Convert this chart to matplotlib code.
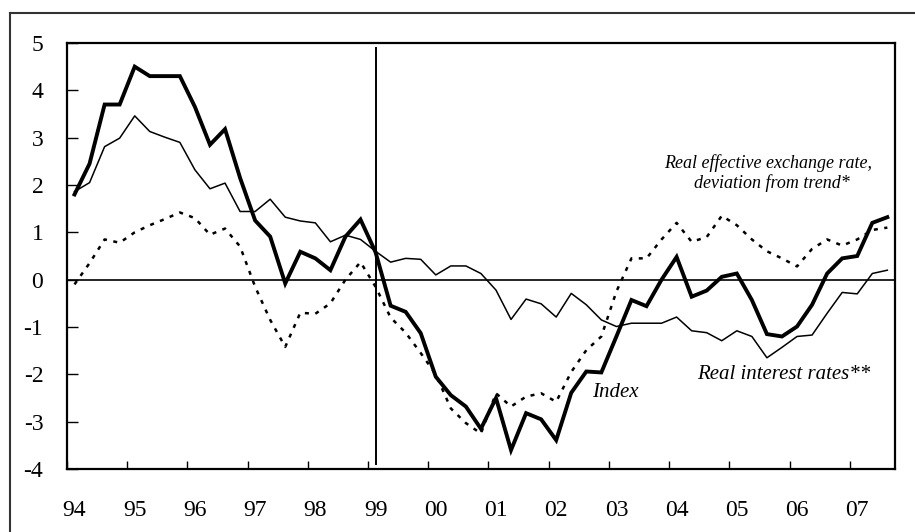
"""Index vs. real interest rates and real effective exchange rate, 1994-2007."""

import matplotlib

matplotlib.use("Agg")
import matplotlib.pyplot as plt
from matplotlib.lines import Line2D

# quarterly observations, 94Q1 .. 07Q3
year_labels = ["94", "95", "96", "97", "98", "99", "00", "01", "02", "03", "04", "05", "06", "07"]

index_vals = [
    1.8, 2.45, 3.7, 3.7, 4.5, 4.3, 4.3, 4.3, 3.65, 2.85,
    3.18, 2.15, 1.25, 0.91, -0.08, 0.59, 0.45, 0.2, 0.91, 1.27,
    0.58, -0.55, -0.68, -1.13, -2.05, -2.44, -2.68, -3.15, -2.5, -3.6,
    -2.82, -2.95, -3.39, -2.39, -1.94, -1.96, -1.2, -0.43, -0.56, 0.0,
    0.48, -0.36, -0.23, 0.06, 0.13, -0.43, -1.15, -1.2, -0.99, -0.53,
    0.13, 0.45, 0.5, 1.2, 1.32,
]

real_rates = [
    1.86, 2.05, 2.81, 2.99, 3.46, 3.13, 3.01, 2.9, 2.32, 1.92,
    2.04, 1.44, 1.44, 1.7, 1.32, 1.24, 1.2, 0.8, 0.94, 0.85,
    0.6, 0.37, 0.45, 0.43, 0.1, 0.29, 0.29, 0.13, -0.22, -0.84,
    -0.41, -0.51, -0.79, -0.29, -0.53, -0.85, -0.99, -0.92, -0.92, -0.92,
    -0.79, -1.08, -1.12, -1.29, -1.08, -1.2, -1.65, -1.43, -1.2, -1.17,
    -0.71, -0.27, -0.3, 0.13, 0.2,
]

reer_gap = [
    -0.1, 0.35, 0.85, 0.78, 1.0, 1.15, 1.28, 1.42, 1.3, 0.95,
    1.08, 0.7, -0.15, -0.85, -1.42, -0.7, -0.72, -0.5, 0.0, 0.37,
    -0.15, -0.8, -1.12, -1.55, -2.0, -2.72, -3.03, -3.25, -2.4, -2.68,
    -2.47, -2.4, -2.58, -1.95, -1.49, -1.2, -0.25, 0.45, 0.45, 0.85,
    1.2, 0.8, 0.9, 1.35, 1.15, 0.85, 0.6, 0.45, 0.28, 0.65,
    0.85, 0.72, 0.85, 1.05, 1.1,
]

euro_quarter = 20  # 99Q1

SERIF = ["Liberation Serif", "DejaVu Serif"]

fig = plt.figure(figsize=(9.15, 5.32), dpi=100)
ax = fig.add_axes([0.0732, 0.1184, 0.9048, 0.8008])

x = list(range(len(index_vals)))
ax.plot(x, reer_gap, color="black", linewidth=1.8, linestyle=(0, (1.6, 2.6)))
ax.plot(x, real_rates, color="black", linewidth=1.1)
ax.plot(x, index_vals, color="black", linewidth=2.8, solid_joinstyle="miter")

ax.axhline(0, color="black", linewidth=1.2)
ax.plot([euro_quarter, euro_quarter], [4.9, -3.9], color="black", linewidth=1.4)

ax.set_xlim(-0.5, len(index_vals) - 0.5)
ax.set_ylim(-4, 5)

# ticks on year boundaries, labels on first quarter of each year
ax.set_xticks([-0.5 + 4 * k for k in range(len(year_labels))])
ax.set_xticklabels([])
ax.set_xticks([4 * k for k in range(len(year_labels))], minor=True)
ax.set_xticklabels(year_labels, minor=True)
ax.tick_params(axis="x", which="major", direction="in", length=6, width=1)
ax.tick_params(axis="x", which="minor", length=0, pad=22, labelsize=17)

ax.set_yticks(range(-4, 6))
ax.set_yticklabels([str(v) for v in range(-4, 6)])
ax.tick_params(axis="y", direction="in", length=8, width=1, pad=17, labelsize=17)

for lab in ax.get_xticklabels(minor=True) + ax.get_yticklabels():
    lab.set_family(SERIF)

for spine in ax.spines.values():
    spine.set_linewidth(1.6)
    spine.set_color("black")

label_style = dict(family=SERIF, style="italic", ha="center", va="center")
ax.text(46.1, 2.47, "Real effective exchange rate,", fontsize=13, **label_style)
ax.text(46.3, 2.04, "deviation from trend*", fontsize=13, **label_style)
ax.text(35.9, -2.39, "Index", fontsize=15, **label_style)
ax.text(47.1, -2.01, "Real interest rates**", fontsize=15, **label_style)

# outer frame (only left and top edges fall inside the image)
x0 = 10 / 915
y0 = 1 - 13 / 532
fig.add_artist(Line2D([x0, x0], [0, y0], transform=fig.transFigure, color="#333333", linewidth=1.5))
fig.add_artist(Line2D([x0, 1], [y0, y0], transform=fig.transFigure, color="#333333", linewidth=1.5))

fig.savefig("out.png", dpi=100, facecolor="white")
